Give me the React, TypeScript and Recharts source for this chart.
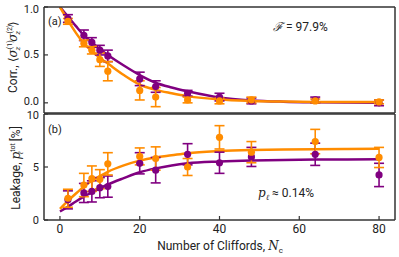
import React from 'react';
import { ComposedChart, Scatter, Line, XAxis, YAxis, ErrorBar } from 'recharts';

// Measured sequence lengths (number of Cliffords)
const cliffords = [2, 6, 8, 10, 12, 20, 24, 32, 40, 48, 64, 80];

// Panel (a): correlator
const corrPurple = [0.88, 0.705, 0.63, 0.55, 0.49, 0.25, 0.17, 0.10, 0.06, 0.02, 0.03, 0.0];
const corrPurpleErr = [0.04, 0.055, 0.05, 0.05, 0.06, 0.07, 0.06, 0.03, 0.04, 0.03, 0.03, 0.03];
const corrOrange = [0.85, 0.62, 0.55, 0.45, 0.33, 0.13, 0.06, 0.03, 0.02, 0.03, 0.02, 0.01];
const corrOrangeErr = [0.03, 0.035, 0.04, 0.07, 0.1, 0.1, 0.1, 0.03, 0.03, 0.03, 0.02, 0.02];

// Panel (b): leakage [%]
const leakPurple = [1.9, 2.55, 2.7, 3.05, 3.15, 5.35, 4.7, 6.2, 5.4, 5.95, 6.2, 4.25];
const leakPurpleErr = [0.85, 0.9, 1.0, 0.95, 1.0, 1.0, 1.2, 1.0, 1.0, 0.9, 1.05, 1.1];
const leakOrange = [2.05, 3.3, 3.9, 3.85, 5.3, 6.0, 5.8, 5.0, 7.8, 6.4, 7.4, 5.9];
const leakOrangeErr = [0.85, 1.1, 1.2, 0.9, 1.05, 0.8, 1.1, 0.8, 1.1, 1.0, 1.15, 0.95];

// Fit curves
const fitN = [0, 2, 4, 6, 8, 10, 12, 16, 20, 24, 28, 32, 40, 48, 56, 64, 72, 80];
const corrFitPurple = [1.0, 0.9, 0.8, 0.705, 0.63, 0.56, 0.5, 0.39, 0.29, 0.21, 0.16, 0.12, 0.055, 0.025, 0.012, 0.006, 0.003, 0.001];
const corrFitOrange = [1.0, 0.86, 0.73, 0.62, 0.54, 0.47, 0.41, 0.29, 0.19, 0.135, 0.1, 0.07, 0.035, 0.02, 0.013, 0.01, 0.01, 0.01];
const leakFitPurple = [0.8, 1.25, 1.75, 2.2, 2.6, 2.99, 3.35, 3.95, 4.5, 4.87, 5.15, 5.35, 5.52, 5.62, 5.67, 5.7, 5.71, 5.72];
const leakFitOrange = [1.05, 1.8, 2.5, 3.15, 3.7, 4.15, 4.55, 5.15, 5.6, 5.9, 6.1, 6.3, 6.5, 6.6, 6.65, 6.68, 6.7, 6.72];

const xTicks = [0, 20, 40, 60, 80];
const corrTicks = [0, 0.5, 1.0];
const leakTicks = [0, 5, 10];

const PURPLE = '#800080';
const ORANGE = '#ff8c00';
const FONT = 'Roboto, sans-serif';
const W = 399;
const H = 257;

const pts = (ys: number[], es: number[]) => cliffords.map((n, i) => ({ n, y: ys[i], e: es[i] }));
const fit = (ys: number[]) => fitN.map((n, i) => ({ n, y: ys[i] }));

const axisLine = { stroke: '#333', strokeWidth: 1.5 };
const tickLine = { stroke: '#333', strokeWidth: 1.2 };
const xTickStyle = { fontSize: 12, fill: '#222', fontFamily: FONT };

const dotShape = (color: string) => (p: any) => <circle cx={p.cx} cy={p.cy} r={3.6} fill={color} />;

// y tick label renderer; nudge keeps the two labels at the panel joint apart
const yTick = (fmt: (v: number) => string, nudge: (v: number) => number) => (p: any) => (
  <text
    x={p.x}
    y={p.y + nudge(p.payload.value)}
    textAnchor="end"
    dominantBaseline="central"
    fontSize={11}
    fill="#222"
    fontFamily={FONT}
  >
    {fmt(p.payload.value)}
  </text>
);

type PanelProps = {
  top: number;
  bottom: number;
  domain: [number, number];
  yTicks: number[];
  fmt: (v: number) => string;
  nudge: (v: number) => number;
  showX: boolean;
  p1: { n: number; y: number; e: number }[];
  p2: { n: number; y: number; e: number }[];
  f1: { n: number; y: number }[];
  f2: { n: number; y: number }[];
};

function Panel({ top, bottom, domain, yTicks, fmt, nudge, showX, p1, p2, f1, f2 }: PanelProps) {
  // plot area: x 44..395, y top..bottom ; axes have 1px size
  const margin = { top: top - 1, bottom: H - bottom - 1, left: 43, right: 3 };
  return (
    <div style={{ position: 'absolute', left: 0, top: 0 }}>
      <ComposedChart width={W} height={H} margin={margin}>
        <XAxis
          xAxisId="b"
          dataKey="n"
          type="number"
          domain={[-4, 84]}
          allowDataOverflow
          ticks={xTicks}
          height={1}
          tickSize={-4}
          tickMargin={8}
          axisLine={axisLine}
          tickLine={tickLine}
          tick={showX ? xTickStyle : false}
        />
        <XAxis
          xAxisId="t"
          orientation="top"
          type="number"
          domain={[-4, 84]}
          allowDataOverflow
          ticks={xTicks}
          height={1}
          tickSize={-4}
          axisLine={axisLine}
          tickLine={tickLine}
          tick={false}
        />
        <YAxis
          yAxisId="l"
          type="number"
          domain={domain}
          allowDataOverflow
          ticks={yTicks}
          width={1}
          tickSize={-4}
          tickMargin={9}
          axisLine={axisLine}
          tickLine={tickLine}
          tick={yTick(fmt, nudge)}
        />
        <YAxis
          yAxisId="r"
          orientation="right"
          type="number"
          domain={domain}
          allowDataOverflow
          ticks={yTicks}
          width={1}
          tickSize={-4}
          axisLine={axisLine}
          tickLine={tickLine}
          tick={false}
        />
        <Line xAxisId="b" yAxisId="l" data={f1} dataKey="y" type="monotone" stroke={PURPLE} strokeWidth={2.5} dot={false} isAnimationActive={false} />
        <Line xAxisId="b" yAxisId="l" data={f2} dataKey="y" type="monotone" stroke={ORANGE} strokeWidth={2.5} dot={false} isAnimationActive={false} />
        <Scatter xAxisId="b" yAxisId="l" data={p1} dataKey="y" fill={PURPLE} shape={dotShape(PURPLE)} isAnimationActive={false}>
          <ErrorBar dataKey="e" direction="y" width={5} stroke={PURPLE} strokeWidth={1.6} />
        </Scatter>
        <Scatter xAxisId="b" yAxisId="l" data={p2} dataKey="y" fill={ORANGE} shape={dotShape(ORANGE)} isAnimationActive={false}>
          <ErrorBar dataKey="e" direction="y" width={5} stroke={ORANGE} strokeWidth={1.6} />
        </Scatter>
      </ComposedChart>
    </div>
  );
}

export default function App() {
  const sub = 8;
  return (
    <div style={{ position: 'absolute', left: 0, top: 0, width: W, height: H, background: '#fff', fontFamily: FONT }}>
      <Panel
        top={7}
        bottom={113}
        domain={[-0.106, 1.0]}
        yTicks={corrTicks}
        fmt={(v) => v.toFixed(1)}
        nudge={(v) => (v === 0 ? -1 : 0)}
        showX={false}
        p1={pts(corrPurple, corrPurpleErr)}
        p2={pts(corrOrange, corrOrangeErr)}
        f1={fit(corrFitPurple)}
        f2={fit(corrFitOrange)}
      />
      <Panel
        top={114}
        bottom={220}
        domain={[0, 10]}
        yTicks={leakTicks}
        fmt={(v) => String(v)}
        nudge={(v) => (v === 10 ? 1.5 : 0)}
        showX={true}
        p1={pts(leakPurple, leakPurpleErr)}
        p2={pts(leakOrange, leakOrangeErr)}
        f1={fit(leakFitPurple)}
        f2={fit(leakFitOrange)}
      />
      <svg width={W} height={H} style={{ position: 'absolute', left: 0, top: 0, pointerEvents: 'none' }}>
        <g fontFamily={FONT} fill="#222">
          <text x={48} y={25} fontSize={11}>(a)</text>
          <text x={48} y={133} fontSize={11}>(b)</text>
          <text x={273} y={31} fontSize={12}>
            <tspan fontFamily="DejaVu Serif" fontStyle="italic">ℱ</tspan> = 97.9%
          </text>
          <text x={258} y={197} fontSize={12}>
            <tspan fontFamily="DejaVu Serif" fontStyle="italic">p</tspan>
            <tspan fontSize={sub} dy={3} fontFamily="DejaVu Serif" fontStyle="italic">ℓ</tspan>
            <tspan dy={-3}> ≈ 0.14%</tspan>
          </text>
          <text x={220} y={250} fontSize={12} textAnchor="middle">
            Number of Cliffords, <tspan fontFamily="DejaVu Serif" fontStyle="italic">N</tspan>
            <tspan fontSize={sub} dy={3}>c</tspan>
          </text>
          <text transform="translate(17,57) rotate(-90)" fontSize={12} textAnchor="middle">
            Corr., ⟨<tspan fontFamily="DejaVu Serif" fontStyle="italic">σ</tspan>
            <tspan fontSize={7} dy={-5}>(1)</tspan>
            <tspan fontSize={7} dx={-10} dy={8} fontFamily="DejaVu Serif" fontStyle="italic">z</tspan>
            <tspan dx={5} dy={-3} fontFamily="DejaVu Serif" fontStyle="italic">σ</tspan>
            <tspan fontSize={7} dy={-5}>(2)</tspan>
            <tspan fontSize={7} dx={-10} dy={8} fontFamily="DejaVu Serif" fontStyle="italic">z</tspan>
            <tspan dx={5} dy={-3}>⟩</tspan>
          </text>
          <text transform="translate(20,168) rotate(-90)" fontSize={12} textAnchor="middle">
            Leakage, <tspan fontFamily="DejaVu Serif" fontStyle="italic">p</tspan>
            <tspan fontSize={7} dy={-5}>tot</tspan>
            <tspan fontSize={7} dx={-11} dy={8} fontFamily="DejaVu Serif" fontStyle="italic">ℓ</tspan>
            <tspan dx={7} dy={-3}> [%]</tspan>
          </text>
        </g>
      </svg>
    </div>
  );
}
